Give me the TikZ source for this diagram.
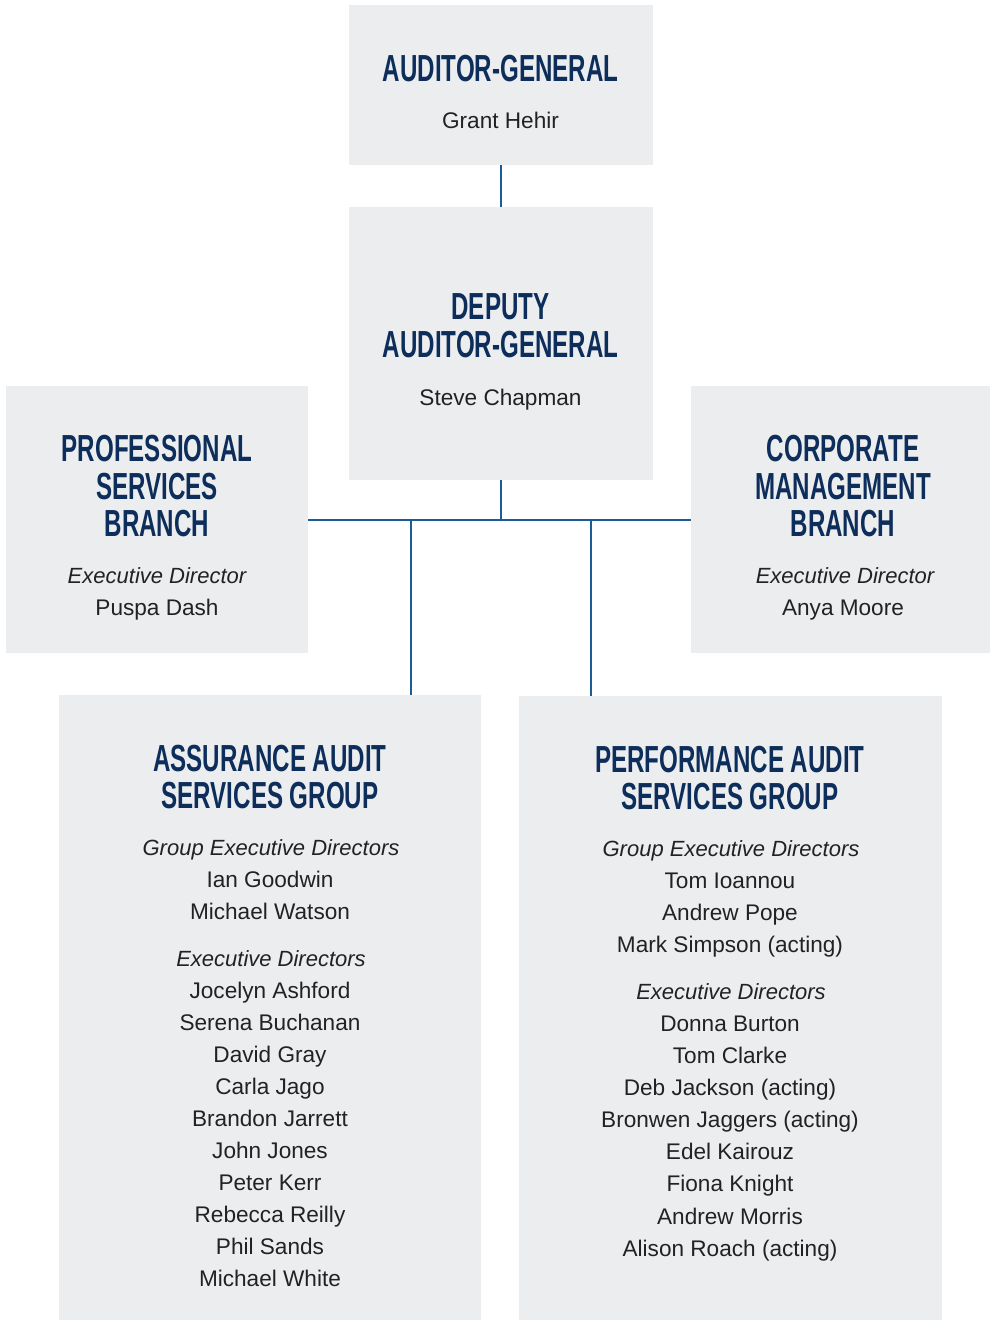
\documentclass[tikz,border=0pt]{standalone}
\usepackage{fontspec}
\setmainfont{Liberation Sans}
\newfontfamily\ttlfont[FakeStretch=0.64]{Liberation Sans}
\definecolor{boxfill}{HTML}{ECEDEF}
\definecolor{navy}{HTML}{0D2D5A}
\definecolor{linkblue}{HTML}{1C5C96}
\definecolor{bodytext}{HTML}{222222}
\begin{document}
\begin{tikzpicture}[x=1pt,y=-1pt,
  box/.style={fill=boxfill,draw=none,inner sep=0pt,outer sep=0pt,anchor=north west},
  ttl/.style={anchor=base,inner sep=0pt,text=navy,font=\ttlfont\bfseries\fontsize{37.7}{37.7}\selectfont},
  body/.style={anchor=base,inner sep=0pt,text=bodytext,font=\fontsize{22.6}{22.6}\selectfont},
  role/.style={body,font=\itshape\fontsize{22}{22}\selectfont},
  conn/.style={draw=linkblue,line width=1.7pt}]
\useasboundingbox (0,0) rectangle (990,1320);

% boxes
\node[box,minimum width=304pt,minimum height=160pt] (ag) at (349,5) {};
\node[box,minimum width=304pt,minimum height=273pt] (dep) at (349,207) {};
\node[box,minimum width=302pt,minimum height=267pt] (prof) at (6,386) {};
\node[box,minimum width=299pt,minimum height=267pt] (corp) at (691,386) {};
\node[box,minimum width=422pt,minimum height=625pt] (aas) at (59,695) {};
\node[box,minimum width=423pt,minimum height=624pt] (pas) at (519,696) {};

% connectors
\coordinate (jc) at (500.7,520);
\coordinate (jl) at (410.7,520);
\coordinate (jr) at (590.7,520);
\draw[conn] (ag.south -| jc) -- (dep.north -| jc);
\draw[conn] (dep.south -| jc) -- (jc);
\draw[conn] (prof.east |- jc) -- (corp.west |- jc);
\draw[conn] (jl) -- (jl |- aas.north);
\draw[conn] (jr) -- (jr |- pas.north);

% Auditor-General
\node[ttl] (agT) at (500.5,81) {AUDITOR-GENERAL};
\node[body] (agN) at (500.5,128) {Grant Hehir};

% Deputy Auditor-General
\node[ttl] (depT1) at (500.5,319.5) {DEPUTY};
\node[ttl] (depT2) at (500.5,357) {AUDITOR-GENERAL};
\node[body] (depN) at (500.5,405) {Steve Chapman};

% Professional Services Branch
\node[ttl] (profT1) at (157,461.5) {PROFESSIONAL};
\node[ttl] (profT2) at (157,499) {SERVICES};
\node[ttl] (profT3) at (157,536) {BRANCH};
\node[role] (profR) at (157,583.5) {Executive Director};
\node[body] (profN) at (157,615) {Puspa Dash};

% Corporate Management Branch
\node[ttl] (corpT1) at (843,461.5) {CORPORATE};
\node[ttl] (corpT2) at (843,499) {MANAGEMENT};
\node[ttl] (corpT3) at (843,536) {BRANCH};
\node[role] (corpR) at (845,583.5) {Executive Director};
\node[body] (corpN) at (843,615) {Anya Moore};

% Assurance Audit Services Group
\node[ttl] (aasT1) at (270,771.5) {ASSURANCE AUDIT};
\node[ttl] (aasT2) at (270,808.5) {SERVICES GROUP};
\node[role] (aasR1) at (271,855.7) {Group Executive Directors};
\foreach \n [count=\i] in {Ian Goodwin,Michael Watson}
  \node[body] (aasG\i) at (270,855.7+32*\i) {\n};
\node[role] (aasR2) at (271,966.7) {Executive Directors};
\foreach \n [count=\i] in {Jocelyn Ashford,Serena Buchanan,David Gray,Carla Jago,
    Brandon Jarrett,John Jones,Peter Kerr,Rebecca Reilly,Phil Sands,Michael White}
  \node[body] (aasE\i) at (270,966.7+31.95*\i) {\n};

% Performance Audit Services Group
\node[ttl] (pasT1) at (730,772.5) {PERFORMANCE AUDIT};
\node[ttl] (pasT2) at (730,809.5) {SERVICES GROUP};
\node[role] (pasR1) at (731,856) {Group Executive Directors};
\foreach \n [count=\i] in {Tom Ioannou,Andrew Pope,Mark Simpson (acting)}
  \node[body] (pasG\i) at (730,856+32*\i) {\n};
\node[role] (pasR2) at (731,999.3) {Executive Directors};
\foreach \n [count=\i] in {Donna Burton,Tom Clarke,Deb Jackson (acting),
    Bronwen Jaggers (acting),Edel Kairouz,Fiona Knight,Andrew Morris,Alison Roach (acting)}
  \node[body] (pasE\i) at (730,999.3+32.1*\i) {\n};
\end{tikzpicture}
\end{document}
